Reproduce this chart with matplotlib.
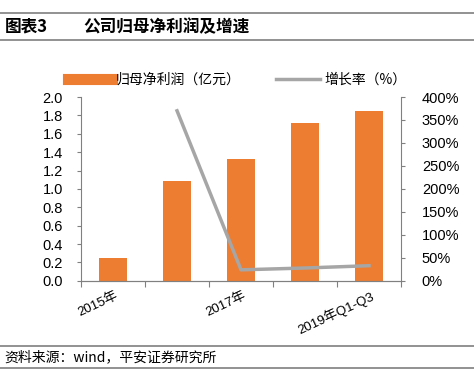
import numpy as np
import matplotlib.pyplot as plt
import matplotlib.lines as mlines

plt.rcParams['font.family'] = ['Noto Sans CJK SC', 'DejaVu Sans']

# data
categories = ['2015年', '2016年', '2017年', '2018年', '2019年Q1-Q3']
profit = [0.25, 1.09, 1.33, 1.72, 1.85]          # 亿元
growth = [np.nan, 370, 24, 28, 33]               # %

orange = '#ED7D31'
gray = '#A6A6A6'
axis_col = '#808080'

fig = plt.figure(figsize=(4.74, 3.76), dpi=100)
ax = fig.add_axes([0.171, 0.253, 0.675, 0.489])
ax2 = ax.twinx()

x = np.arange(len(categories))
ax.bar(x, profit, width=0.44, color=orange, zorder=2)
ax2.plot(x, growth, color=gray, lw=2.5, zorder=3)

ax.set_xlim(-0.5, len(categories) - 0.5)
ax.set_ylim(0, 2.0)
ax.set_yticks(np.arange(0, 2.01, 0.2))
ax.set_yticklabels([f'{v:.1f}' for v in np.arange(0, 2.01, 0.2)])
ax2.set_ylim(0, 400)
ax2.set_yticks(np.arange(0, 401, 50))
ax2.set_yticklabels([f'{v}%' for v in range(0, 401, 50)])

# x labels only on every other category, ticks at category boundaries
ax.set_xticks(np.arange(-0.5, len(categories)), minor=False)
ax.set_xticklabels([])
ax.tick_params(axis='x', length=4, color=axis_col)
for i in (0, 2, 4):
    ax.text(x[i] + 0.02, -0.09, categories[i], rotation=25, ha='right', va='top',
            rotation_mode='anchor', fontsize=9.5,
            family=['Liberation Sans', 'Noto Sans CJK SC'])

for a in (ax, ax2):
    a.spines['top'].set_visible(False)
    for s in ('left', 'right', 'bottom'):
        a.spines[s].set_color(axis_col)
        a.spines[s].set_linewidth(0.8)
    a.tick_params(axis='y', length=3, color=axis_col, labelsize=10.5, pad=10)
ax.spines['right'].set_visible(False)
ax2.spines['left'].set_visible(False)
for lbl in ax.get_yticklabels() + ax2.get_yticklabels():
    lbl.set_family(['Liberation Sans', 'DejaVu Sans'])
ax2.tick_params(axis='y', pad=12)

# legend
handles = [mlines.Line2D([], [], color=orange, lw=8),
           mlines.Line2D([], [], color=gray, lw=2.5)]
fig.legend(handles, ['归母净利润（亿元）', '增长率（%）'], loc='center',
           bbox_to_anchor=(0.5, 0.787), ncol=2, frameon=False, fontsize=10,
           handlelength=3.2, handletextpad=0.3, columnspacing=2.5)

# title and source bands
for yy in (0.966, 0.894, 0.080, 0.022):
    fig.add_artist(mlines.Line2D([0, 1], [yy, yy], color='#7F7F7F', lw=1.2))
fig.text(0.01, 0.929, '图表3', fontsize=12, fontweight='bold', va='center')
fig.text(0.175, 0.929, '公司归母净利润及增速', fontsize=12, fontweight='bold', va='center')
fig.text(0.01, 0.051, '资料来源：wind，平安证券研究所', fontsize=10, va='center',
         style='italic')

fig.savefig('out.png', dpi=100)
